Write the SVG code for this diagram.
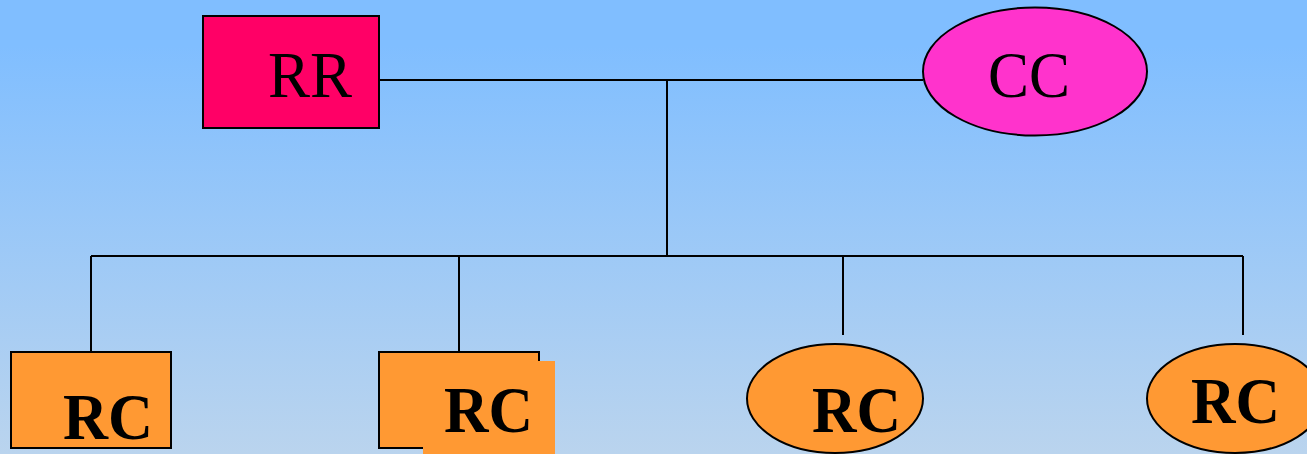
<svg xmlns="http://www.w3.org/2000/svg" width="1307" height="454" viewBox="0 0 1307 454">
<defs>
<linearGradient id="bg" x1="0" y1="0" x2="0" y2="1">
<stop offset="0" stop-color="#80BEFF"/>
<stop offset="0.1" stop-color="#80BEFF"/>
<stop offset="1" stop-color="#BAD4EE"/>
</linearGradient>
<style>
.ln{stroke:#000;stroke-width:2;fill:none}
.rc{fill:#FF9933;stroke:#000;stroke-width:2}
.t{font-family:"Liberation Serif","Times New Roman",serif;fill:#000}
.b{font-weight:bold;font-size:66px}
.n{font-size:65px}
</style>
</defs>
<rect x="0" y="0" width="1307" height="454" fill="url(#bg)"/>
<g id="connectors">
<line class="ln" x1="379" y1="80" x2="923" y2="80"/>
<line class="ln" x1="667" y1="80" x2="667" y2="256"/>
<line class="ln" x1="91" y1="256" x2="1243" y2="256"/>
<line class="ln" x1="91" y1="256" x2="91" y2="352"/>
<line class="ln" x1="459" y1="256" x2="459" y2="352"/>
<line class="ln" x1="843" y1="256" x2="843" y2="335"/>
<line class="ln" x1="1243" y1="256" x2="1243" y2="335"/>
</g>
<g id="RR">
<rect x="203" y="16" width="176" height="112" fill="#FF0066" stroke="#000" stroke-width="2"/>
<text class="t n" x="268" y="97" textLength="84" lengthAdjust="spacingAndGlyphs">RR</text>
</g>
<g id="CC">
<ellipse cx="1035" cy="71.5" rx="112" ry="64" fill="#FF33CC" stroke="#000" stroke-width="2"/>
<text class="t n" x="988" y="97" textLength="82" lengthAdjust="spacingAndGlyphs">CC</text>
</g>
<g id="RC1">
<rect class="rc" x="11" y="352" width="160" height="96"/>
<text class="t b" x="63" y="439" textLength="90" lengthAdjust="spacingAndGlyphs">RC</text>
</g>
<g id="RC2">
<rect class="rc" x="379" y="352" width="160" height="96"/>
<rect x="423" y="361" width="132" height="93" fill="#FF9933"/>
<text class="t b" x="444" y="432" textLength="89" lengthAdjust="spacingAndGlyphs">RC</text>
</g>
<g id="RC3">
<ellipse class="rc" cx="835" cy="398.5" rx="88" ry="54.5"/>
<text class="t b" x="812" y="432" textLength="89" lengthAdjust="spacingAndGlyphs">RC</text>
</g>
<g id="RC4">
<ellipse class="rc" cx="1235" cy="398.5" rx="88" ry="54.5"/>
<text class="t b" x="1191" y="423" textLength="89" lengthAdjust="spacingAndGlyphs">RC</text>
</g>
</svg>
